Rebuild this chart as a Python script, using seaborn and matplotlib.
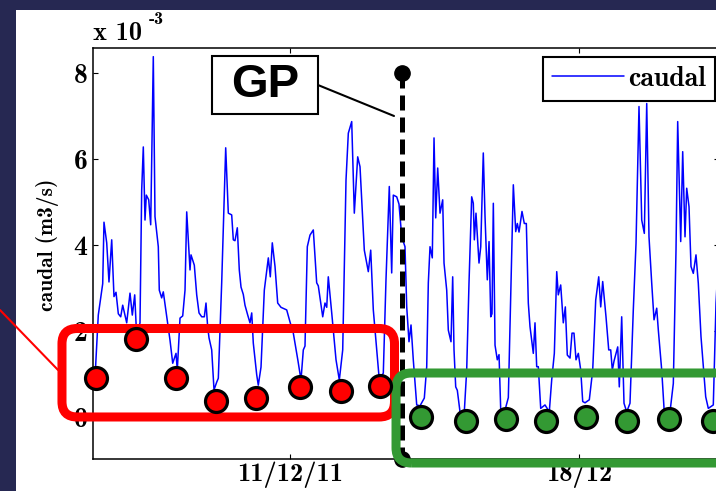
import matplotlib
matplotlib.use("Agg")
import matplotlib.pyplot as plt
from matplotlib.patches import FancyBboxPatch, Rectangle
import seaborn as sns

# Flow series: time in days counted from 1 Dec 2011 00:00, flow in 1e-3 m3/s
t_flow = [
    5.278, 5.358, 5.465, 5.496, 5.562, 5.617, 5.683, 5.738, 5.787, 5.843,
    5.901, 5.949, 6.046, 6.126, 6.182, 6.240, 6.288, 6.368, 6.409, 6.448,
    6.489, 6.521, 6.579, 6.627, 6.690, 6.731, 6.811, 6.835, 6.893, 6.932,
    7.015, 7.094, 7.160, 7.240, 7.271, 7.337, 7.402, 7.458, 7.499, 7.579,
    7.603, 7.683, 7.741, 7.797, 7.862, 7.925, 7.966, 8.007, 8.039, 8.104,
    8.160, 8.225, 8.264, 8.346, 8.443, 8.506, 8.588, 8.627, 8.668, 8.724,
    8.772, 8.814, 8.869, 8.910, 8.976, 9.031, 9.073, 9.111, 9.194, 9.232,
    9.298, 9.378, 9.475, 9.523, 9.571, 9.637, 9.702, 9.782, 9.920, 10.000,
    10.080, 10.121, 10.194, 10.266, 10.322, 10.363, 10.419, 10.484, 10.564, 10.646,
    10.685, 10.792, 10.847, 10.889, 10.927, 11.010, 11.114, 11.194, 11.276, 11.356,
    11.412, 11.494, 11.557, 11.639, 11.695, 11.799, 11.896, 11.954, 12.017, 12.099,
    12.162, 12.259, 12.324, 12.404, 12.462, 12.501, 12.584, 12.639, 12.705, 12.784,
    12.826, 12.881, 12.930, 12.985, 13.068, 13.148, 13.252, 13.310, 13.349, 13.390,
    13.445, 13.487, 13.528, 13.576, 13.632, 13.697, 13.729, 13.794, 13.833, 13.898,
    13.939, 13.971, 14.012, 14.051, 14.116, 14.220, 14.278, 14.334, 14.399, 14.438,
    14.463, 14.503, 14.576, 14.618, 14.680, 14.722, 14.777, 14.819, 14.860, 14.891,
    14.923, 14.964, 15.019, 15.061, 15.102, 15.206, 15.286, 15.351, 15.407, 15.465,
    15.504, 15.545, 15.617, 15.673, 15.722, 15.770, 15.811, 15.891, 15.932, 15.973,
    16.012, 16.070, 16.174, 16.278, 16.336, 16.400, 16.458, 16.496, 16.554, 16.617,
    16.666, 16.714, 16.780, 16.828, 16.876, 16.925, 16.981, 17.039, 17.087, 17.143,
    17.247, 17.329, 17.402, 17.475, 17.523, 17.571, 17.651, 17.717, 17.765, 17.804,
    17.845, 17.935, 17.973, 18.031, 18.087, 18.152, 18.232, 18.312, 18.378, 18.450,
    18.516, 18.579, 18.637, 18.692, 18.758, 18.814, 18.879, 18.918, 19.000, 19.063,
    19.201, 19.281, 19.346, 19.387, 19.460, 19.508, 19.564, 19.605, 19.661, 19.709,
    19.765, 19.830, 19.886, 19.951, 20.007, 20.065, 20.128, 20.249, 20.315, 20.390,
]
q_flow = [
    0.90, 2.37, 3.10, 4.53, 4.05, 3.14, 4.12, 2.80, 2.90, 2.40,
    2.33, 2.60, 2.19, 2.88, 2.37, 2.84, 1.86, 2.19, 5.28, 6.28,
    4.58, 5.16, 5.05, 4.47, 8.38, 4.66, 3.96, 2.95, 2.77, 2.91,
    2.33, 1.79, 1.25, 1.48, 1.09, 2.30, 2.35, 2.95, 4.77, 3.42,
    3.77, 3.53, 2.84, 2.42, 2.33, 2.33, 2.65, 2.09, 1.84, 1.56,
    0.63, 0.81, 0.90, 3.12, 6.26, 4.74, 4.70, 4.12, 4.10, 4.40,
    3.42, 3.02, 2.85, 2.60, 2.37, 2.19, 2.42, 1.72, 0.98, 0.74,
    1.16, 2.95, 3.70, 3.26, 4.05, 3.50, 2.65, 2.55, 2.49, 2.21,
    1.95, 1.72, 1.30, 0.86, 1.56, 1.65, 3.96, 4.23, 4.35, 3.12,
    3.05, 2.33, 2.65, 2.55, 3.26, 2.42, 1.33, 0.86, 1.56, 5.51,
    6.60, 6.87, 4.74, 6.05, 5.82, 3.88, 3.38, 3.88, 2.49, 1.56,
    0.86, 1.02, 3.19, 5.36, 3.35, 5.16, 5.12, 4.95, 4.19, 3.96,
    2.56, 1.75, 2.14, 1.33, 0.28, 0.26, 0.44, 1.17, 3.12, 3.96,
    3.70, 6.49, 4.63, 5.79, 4.74, 5.05, 3.58, 2.95, 2.02, 1.75,
    3.26, 1.56, 0.70, 0.62, 0.12, 0.12, 1.09, 3.12, 5.12, 4.97,
    4.12, 4.74, 3.58, 3.96, 6.14, 4.66, 3.19, 4.08, 2.33, 2.40,
    4.97, 1.67, 1.33, 1.45, 0.16, 0.16, 0.45, 3.12, 5.40, 4.31,
    4.50, 4.30, 4.78, 4.50, 4.50, 2.65, 2.10, 1.48, 2.19, 1.17,
    1.17, 0.20, 0.28, 0.12, 0.86, 1.48, 3.38, 2.84, 3.07, 2.19,
    2.56, 1.44, 1.37, 1.95, 1.95, 1.33, 1.48, 1.09, 0.36, 0.33,
    0.40, 1.09, 2.72, 3.26, 2.56, 3.15, 2.33, 1.56, 1.56, 1.09,
    1.30, 1.63, 0.70, 2.33, 0.32, 0.12, 0.32, 2.49, 4.04, 7.22,
    4.58, 4.27, 7.29, 4.19, 3.11, 2.26, 2.53, 2.02, 1.09, 0.09,
    0.12, 0.78, 3.88, 6.87, 4.08, 6.17, 4.19, 5.32, 4.89, 3.50,
    3.34, 3.77, 3.11, 1.87, 1.17, 0.47, 0.20, 0.28, 2.65, 4.00,
]

# Daily base-flow points before and after the GP event
t_before = [5.303, 6.271, 7.240, 8.208, 9.177, 10.242, 11.235, 12.179]
q_before = [0.91, 1.81, 0.91, 0.37, 0.44, 0.70, 0.60, 0.72]
t_after = [13.172, 14.261, 15.230, 16.206, 17.167, 18.152, 19.184, 20.249]
q_after = [-0.01, -0.09, -0.05, -0.09, -0.01, -0.09, -0.05, -0.09]

# GP event time and its marker range
t_gp = 12.72
gp_top = 8.0

xtick_pos = [10, 17]
xtick_labels = ["11/12/11", "18/12"]
ytick_pos = [0, 2, 4, 6, 8]
ytick_labels = ["0", "2", "4", "6", "8"]

NAVY = "#262852"
RED = "#ff0000"
GREEN = "#339933"

sns.set_theme(style="white")
plt.rcParams["font.family"] = ["cmb10", "DejaVu Serif"]
plt.rcParams["axes.unicode_minus"] = False
plt.rcParams["text.color"] = "black"
plt.rcParams["axes.labelcolor"] = "black"
plt.rcParams["xtick.color"] = "black"
plt.rcParams["ytick.color"] = "black"

W, H = 716, 491
fig = plt.figure(figsize=(W / 100, H / 100), dpi=100, facecolor=NAVY)
panel = Rectangle((16 / W, 0), 1, 1 - 10 / H, transform=fig.transFigure,
                  facecolor="white", edgecolor="none", zorder=-10)
fig.patches.append(panel)

ax = fig.add_axes([93 / W, 32 / H, 626 / W, 411 / H])
ax.set_facecolor("white")
ax.set_zorder(1)

sns.lineplot(x=t_flow, y=q_flow, ax=ax, color="#0000ff", lw=1.1, sort=False,
             estimator=None, label="caudal", zorder=2)

ax.set_xlim(5.23, 20.387)
ax.set_ylim(-0.977, 8.581)

for s in ax.spines.values():
    s.set_color("black")
    s.set_linewidth(1.1)
    s.set_visible(True)

ax.set_xticks(xtick_pos)
ax.set_xticklabels(xtick_labels)
ax.set_yticks(ytick_pos)
ax.set_yticklabels(ytick_labels)
ax.tick_params(direction="in", length=3.6, width=0.8, colors="black",
               top=True, right=True, bottom=True, left=True, labelsize=20)
ax.tick_params(axis="x", pad=2, labelsize=19)
ax.tick_params(axis="y", pad=4)
ax.grid(False)

ax.set_ylabel("caudal (m3/s)", fontsize=15.5, color="black")
ax.yaxis.set_label_coords(-0.054, 0.52)

# scale factor above the y axis
fig.text(93 / W, 1 - 40 / H, "x 10", fontsize=19, ha="left", va="baseline", color="black")
fig.text(149 / W, 1 - 24 / H, "-3", fontsize=13, ha="left", va="baseline", color="black")

# legend
leg = ax.legend(loc="upper right", bbox_to_anchor=(715 / W, 1 - 57 / H),
                bbox_transform=fig.transFigure, borderaxespad=0, fancybox=False,
                framealpha=1, edgecolor="black", fontsize=20, handlelength=2.6,
                handletextpad=0.15, borderpad=0.32)
leg.get_frame().set_linewidth(1.5)
leg.set_zorder(10)
for txt in leg.get_texts():
    txt.set_color("black")

# grouping boxes
ax.plot([2.978, 4.383], [2.488, 1.093], color=RED, lw=1.5, clip_on=False, zorder=3)
ax.add_patch(FancyBboxPatch((4.479, 0.0), 12.530 - 4.479, 2.058,
                            boxstyle="round,pad=0,rounding_size=0.37",
                            mutation_aspect=0.96, edgecolor=RED, facecolor="none",
                            lw=6.5, clip_on=False, zorder=4))

# GP event marker
ax.plot([t_gp, t_gp], [gp_top, -0.977], color="black", lw=3.6, dashes=(3, 1.4),
        marker="o", ms=11, clip_on=False, zorder=5)

ax.add_patch(FancyBboxPatch((12.567, -1.07), 22.0 - 12.567, 2.093,
                            boxstyle="round,pad=0,rounding_size=0.37",
                            mutation_aspect=0.96, edgecolor=GREEN, facecolor="none",
                            lw=6.5, clip_on=False, zorder=6))

# daily points
sns.scatterplot(x=t_before, y=q_before, ax=ax, color=RED, s=250, edgecolor="black",
                linewidth=2.3, zorder=7, legend=False, clip_on=False)
sns.scatterplot(x=t_after, y=q_after, ax=ax, color=GREEN, s=250, edgecolor="black",
                linewidth=2.3, zorder=7, legend=False, clip_on=False)

# GP label
ax.add_patch(Rectangle((8.111, 7.047), 10.678 - 8.111, 8.395 - 7.047, facecolor="white",
                       edgecolor="black", lw=1.5, zorder=8))
ax.text(9.395, 7.72, "GP", fontsize=34, fontweight="bold", family="Liberation Sans",
        ha="center", va="center", color="black", zorder=9)
ax.plot([10.678, 12.518], [7.72, 7.0], color="black", lw=1.5, zorder=8)

fig.savefig("out.png", dpi=100, facecolor=fig.get_facecolor())
